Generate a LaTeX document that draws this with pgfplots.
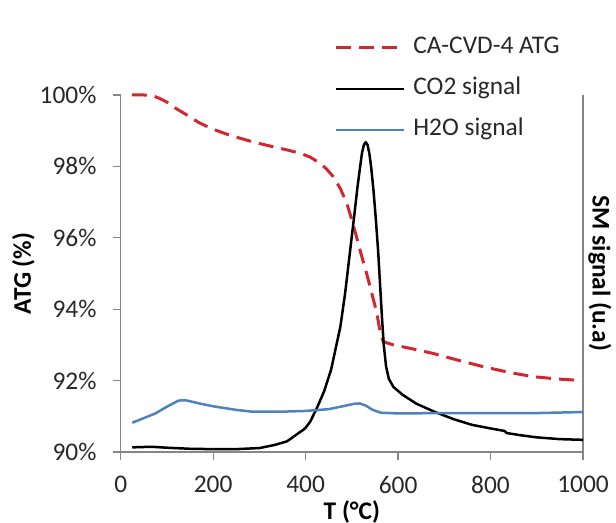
\documentclass[border=0pt]{standalone}
\usepackage{pgfplots}
\pgfplotsset{compat=1.18}
\usepackage{fontspec}
\setmainfont{Carlito}
\definecolor{atgred}{RGB}{210,38,48}
\definecolor{h2oblue}{RGB}{79,129,189}
\definecolor{axgray}{RGB}{134,134,134}
\definecolor{txt}{RGB}{40,40,40}
\newcommand{\cf}{\fontsize{12.7}{15}\selectfont}
\begin{document}
\begin{tikzpicture}
\useasboundingbox (-60.35pt,-35.5pt) rectangle (247.65pt,226pt);
\begin{axis}[
  at={(0,0)}, anchor=south west,
  scale only axis, width=231.15pt, height=178.5pt,
  xmin=0, xmax=1000, ymin=90, ymax=100,
  axis x line*=bottom, axis y line*=left,
  axis line style={draw=axgray, line width=0.6pt},
  every tick/.style={draw=axgray, line width=0.6pt},
  tick align=outside, major tick length=4pt,
  xtick={0,200,...,1000}, ytick={90,92,...,100},
  yticklabel={\pgfmathprintnumber{\tick}\%},
  /pgf/number format/assume math mode=true,
  /pgf/number format/1000 sep={},
  tick label style={font=\cf, text=txt},
  yticklabel style={xshift=-4.6pt},
  xticklabel style={yshift=-4.5pt},
  xlabel={T (°C)}, ylabel={ATG (\%)},
  label style={font=\cf\bfseries, text=black},
  xlabel style={at={(axis description cs:0.5,-0.168)}, anchor=center},
  ylabel style={at={(axis description cs:-0.2103,0.5)}, anchor=center, rotate=0},
  clip=false,
]
\addplot[atgred, line width=1.5pt, dash pattern=on 7.5pt off 4pt] coordinates {
(24,100.0) (50,100.0) (71,99.97) (85,99.9) (100,99.8) (120,99.62) (143,99.44)
(170,99.22) (200,99.04) (230,98.9) (258,98.79) (290,98.67) (330,98.55)
(360,98.46) (388,98.37) (410,98.26) (431,98.09) (445,97.93) (460,97.71)
(475,97.38) (489,96.97) (500,96.5) (510,96.03) (521,95.5) (532,95.0)
(543,94.45) (554,93.9) (562,93.3) (568,93.09) (590,93.0) (620,92.92)
(676,92.76) (730,92.57) (784,92.39) (840,92.23) (892,92.11) (950,92.04) (1000,92.0)
};
\end{axis}
\begin{axis}[
  at={(0,0)}, anchor=south west,
  scale only axis, width=231.15pt, height=178.5pt,
  xmin=0, xmax=1000, ymin=0, ymax=10,
  axis x line=none, axis y line*=right,
  axis line style={draw=axgray, line width=0.6pt},
  ytick=\empty,
  ylabel={SM signal (u.a)},
  ylabel style={at={(axis description cs:1.0368,0.5)}, anchor=center, rotate=180, font=\cf\bfseries},
  clip=false,
  legend style={at={(axis description cs:0.4614,1.167)}, anchor=north west,
    draw=none, fill=none, inner sep=0pt, row sep=8.5pt,
    font=\cf, text=txt,
    nodes={inner sep=0pt, text height=9pt, text depth=3pt},
    /tikz/every odd column/.append style={column sep=4pt}},
  legend cell align=left,
  legend image code/.code={\draw[#1] (0pt,0pt) -- (34pt,0pt);},
]
\addlegendimage{atgred, line width=1.5pt, dash pattern=on 7.5pt off 4pt}
\addlegendentry{CA-CVD-4 ATG}
\addplot[black, line width=1.25pt, line join=round] coordinates {
(25,0.13) (50,0.14) (75,0.14) (100,0.12) (150,0.09) (200,0.08) (250,0.08)
(300,0.11) (334,0.2) (360,0.3) (389,0.57) (395,0.62) (400,0.68) (410,0.85)
(425,1.25) (440,1.7) (455,2.3) (465,2.9) (475,3.5) (485,4.4) (495,5.5)
(505,6.6) (512,7.4) (518,8.0) (522,8.38) (526,8.6) (530,8.68) (534,8.6)
(538,8.35) (542,7.95) (547,7.3) (552,6.5) (557,5.6) (561,4.7) (565,3.8)
(569,3.0) (574,2.4) (580,2.05) (590,1.82) (610,1.6)
(640,1.35) (680,1.12) (720,0.92) (760,0.76) (800,0.66) (830,0.59) (835,0.53)
(870,0.46) (900,0.41) (950,0.36) (1000,0.34)
};
\addlegendentry{CO2 signal}
\addplot[h2oblue, line width=1.25pt, line join=round] coordinates {
(25,0.82) (50,0.95) (75,1.08) (100,1.27) (125,1.44) (140,1.45) (170,1.36)
(200,1.28) (250,1.18) (283,1.13) (350,1.13) (400,1.15) (450,1.2) (480,1.28)
(505,1.35) (517,1.36) (530,1.3) (545,1.18) (563,1.1) (600,1.08) (700,1.09)
(800,1.09) (900,1.09) (1000,1.12)
};
\addlegendentry{H2O signal}
\end{axis}
\end{tikzpicture}
\end{document}
